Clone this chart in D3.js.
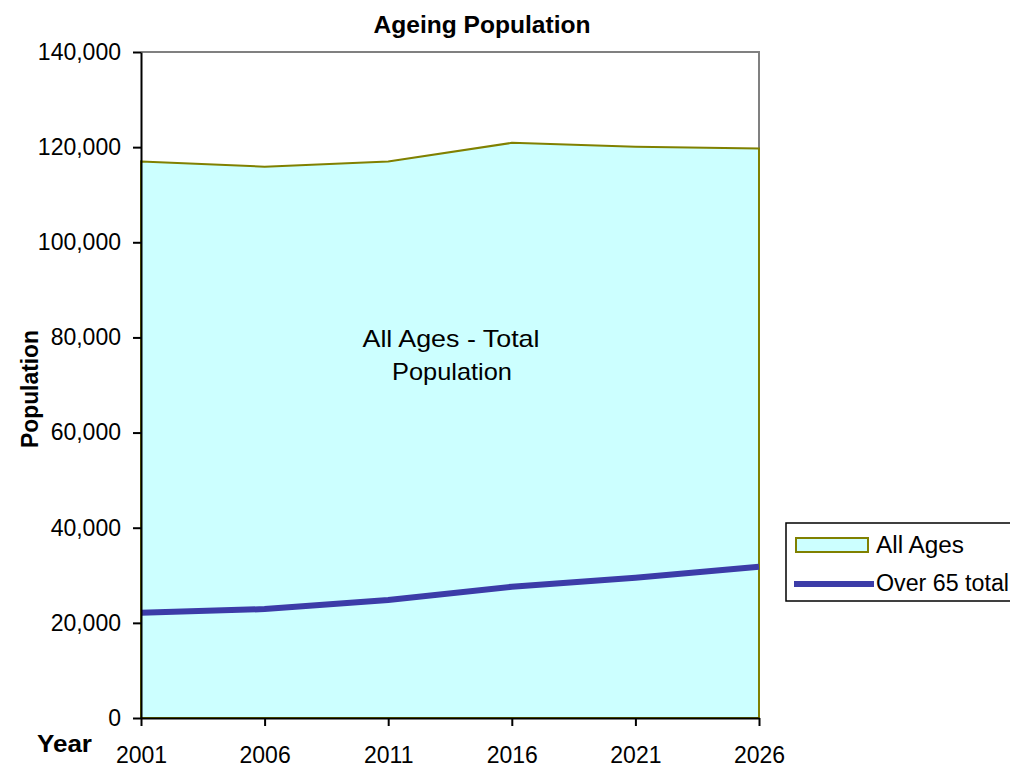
<!DOCTYPE html>
<html>
<head>
<meta charset="utf-8">
<script src="https://cdn.jsdelivr.net/npm/d3@7"></script>
<style>
body { margin: 0; background: #fff; }
text { font-family: "Liberation Sans", Arial, sans-serif; }
</style>
</head>
<body>
<div id="chart"></div>
<script>
// data
const years = ["2001", "2006", "2011", "2016", "2021", "2026"]
const all_ages = [117000, 115900, 117000, 120900, 120100, 119700]
const over_65 = [22100, 22900, 24800, 27600, 29500, 31800]
const y_ticks = [0, 20000, 40000, 60000, 80000, 100000, 120000, 140000]

const margin = {top: 52, right: 251, bottom: 49, left: 141}
const width = 1010 - margin.left - margin.right
const height = 767 - margin.top - margin.bottom

const svg = d3.select("#chart").append("svg")
    .attr("width", 1010)
    .attr("height", 767)

const g = svg.append("g")
    .attr("transform", "translate(" + margin.left + "," + margin.top + ")")

const x = d3.scalePoint().domain(years).range([0, width])
const y = d3.scaleLinear().domain([0, 140000]).range([height, 0])

// plot frame (top and right grey)
g.append("path")
    .attr("d", "M0,0H" + width + "V" + height)
    .attr("fill", "none")
    .attr("stroke", "#808080")
    .attr("stroke-width", 2)

// area
const rows = years.map(function(d, i) { return {year: d, all: all_ages[i], old: over_65[i]} })
const area = d3.area()
    .x(function(d) { return x(d.year) })
    .y0(y(0))
    .y1(function(d) { return y(d.all) })
g.append("path")
    .datum(rows)
    .attr("d", area)
    .attr("fill", "#ccffff")
    .attr("stroke", "#808000")
    .attr("stroke-width", 2)

// over 65 line
const line = d3.line()
    .x(function(d) { return x(d.year) })
    .y(function(d) { return y(d.old) })
g.append("path")
    .datum(rows)
    .attr("d", line)
    .attr("fill", "none")
    .attr("stroke", "#3c3ca8")
    .attr("stroke-width", 6)

// annotation
g.append("text")
    .attr("text-anchor", "middle")
    .attr("font-size", 24)
    .attr("x", 310).attr("y", 295)
    .attr("textLength", 177).attr("lengthAdjust", "spacingAndGlyphs")
    .text("All Ages - Total")
g.append("text")
    .attr("text-anchor", "middle")
    .attr("font-size", 24)
    .attr("x", 311).attr("y", 328)
    .attr("textLength", 120).attr("lengthAdjust", "spacingAndGlyphs")
    .text("Population")

// axes
const yAxis = g.append("g")
    .call(d3.axisLeft(y).tickValues(y_ticks).tickSize(8).tickSizeOuter(0).tickPadding(12)
        .tickFormat(d3.format(",")))
const xAxis = g.append("g")
    .attr("transform", "translate(0," + height + ")")
    .call(d3.axisBottom(x).tickSize(8).tickSizeOuter(0).tickPadding(21))
yAxis.select(".domain").attr("stroke", "#000").attr("stroke-width", 2)
xAxis.select(".domain").attr("stroke", "#000").attr("stroke-width", 2)
svg.selectAll(".tick line").attr("stroke", "#000").attr("stroke-width", 2)
svg.selectAll(".tick text").attr("font-size", 23).attr("fill", "#000")
    .attr("font-family", "Liberation Sans, Arial, sans-serif")

// titles
svg.append("text")
    .attr("x", 482).attr("y", 33)
    .attr("text-anchor", "middle")
    .attr("font-size", 23).attr("font-weight", "bold")
    .attr("textLength", 217).attr("lengthAdjust", "spacingAndGlyphs")
    .text("Ageing Population")
svg.append("text")
    .attr("transform", "translate(38,389) rotate(-90)")
    .attr("text-anchor", "middle")
    .attr("font-size", 23).attr("font-weight", "bold")
    .attr("textLength", 118).attr("lengthAdjust", "spacingAndGlyphs")
    .text("Population")
svg.append("text")
    .attr("x", 37).attr("y", 752)
    .attr("font-size", 23).attr("font-weight", "bold")
    .attr("textLength", 55).attr("lengthAdjust", "spacingAndGlyphs")
    .text("Year")

// legend
const lg = svg.append("g").attr("transform", "translate(786,523)")
lg.append("rect")
    .attr("width", 240).attr("height", 78)
    .attr("fill", "#fff").attr("stroke", "#000").attr("stroke-width", 1.5)
lg.append("rect")
    .attr("x", 10).attr("y", 15).attr("width", 72).attr("height", 14)
    .attr("fill", "#ccffff").attr("stroke", "#808000").attr("stroke-width", 2)
lg.append("line")
    .attr("x1", 8).attr("x2", 88).attr("y1", 61).attr("y2", 61)
    .attr("stroke", "#3c3ca8").attr("stroke-width", 6)
lg.append("text").attr("x", 90).attr("y", 30).attr("font-size", 23)
    .attr("textLength", 88).attr("lengthAdjust", "spacingAndGlyphs").text("All Ages")
lg.append("text").attr("x", 90).attr("y", 68).attr("font-size", 23)
    .attr("textLength", 133).attr("lengthAdjust", "spacingAndGlyphs").text("Over 65 total")
</script>
</body>
</html>
